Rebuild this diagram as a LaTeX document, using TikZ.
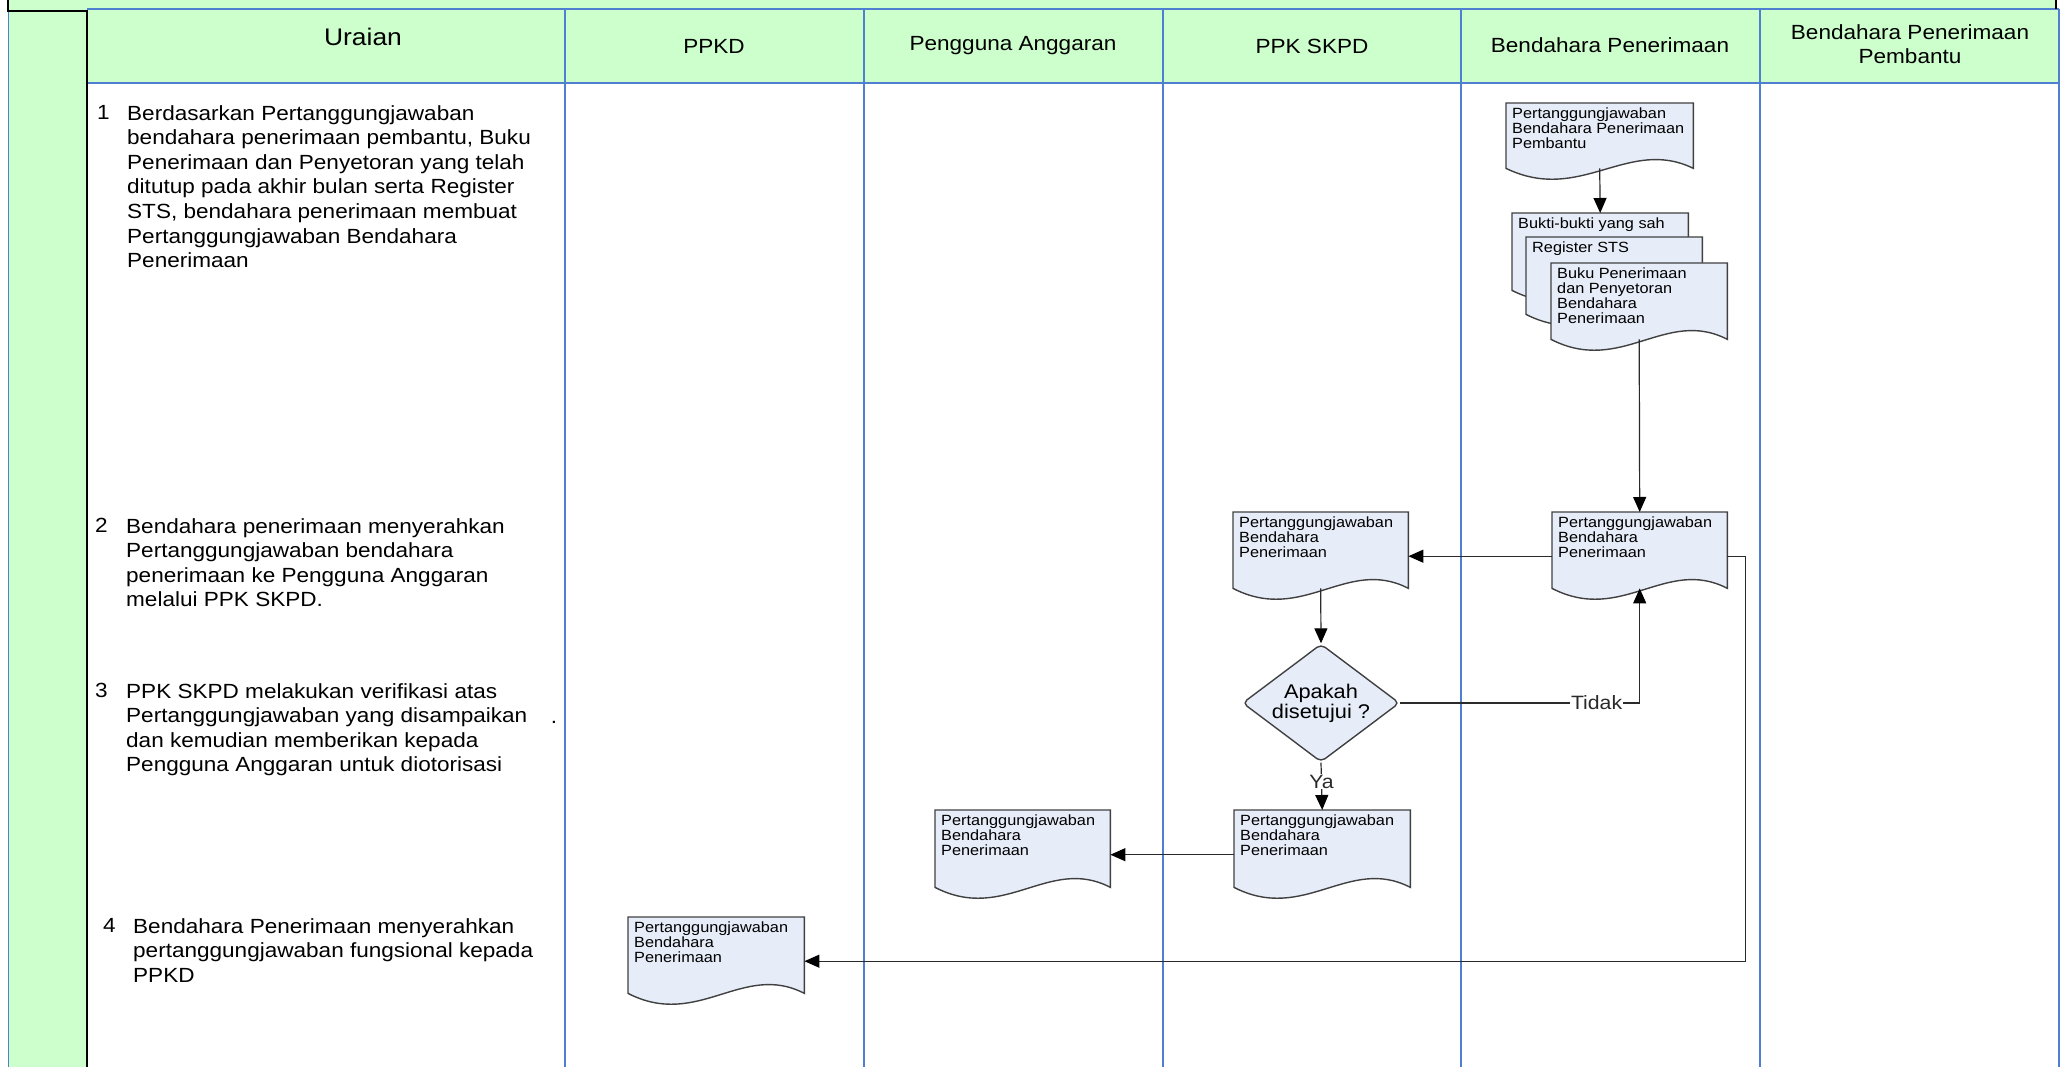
\documentclass[tikz,border=0pt]{standalone}
\usepackage{fontspec}
\setmainfont{Liberation Sans}[FakeStretch=1.1]
\usepackage{tikz}
\usetikzlibrary{arrows.meta,calc,positioning,shapes.geometric}
\definecolor{fgreen}{HTML}{CCFFCC}
\definecolor{fblue}{HTML}{4F7FD0}
\definecolor{fdocfill}{HTML}{E6ECF8}
\definecolor{fdocline}{HTML}{404040}
\definecolor{fline}{HTML}{2A2A2A}
\tikzset{
  >={Triangle[length=15pt, width=13pt, color=black]},
  flane/.style={fblue, line width=1.3pt},
  fhead/.style={font=\fontsize{20.5}{23.5}\selectfont, align=center},
  fstep/.style={font=\fontsize{20.5}{24.6}\selectfont, align=left,
                anchor=north west, inner sep=0pt},
  fdocbox/.style={rectangle, inner sep=0pt, anchor=north west},
  fdocshape/.style={fill=fdocfill, draw=fdocline, line width=1.4pt},
  fdoctext/.style={font=\fontsize{14.8}{15}\selectfont, align=left,
                   anchor=north west, inner xsep=6pt, inner ysep=4.5pt},
  fdecide/.style={diamond, aspect=1.33, fill=fdocfill, draw=fdocline, line width=1.4pt,
                  rounded corners=5pt, minimum width=157pt, minimum height=118pt,
                  inner sep=0pt, align=center, font=\fontsize{19.8}{20}\selectfont},
  fflow/.style={->, fline, line width=1.2pt},
  flbl/.style={fill=white, inner sep=1pt, font=\fontsize{19.3}{20}\selectfont},
}
% dokumen: nama, pojok kiri atas, lebar, tinggi, teks
\newcommand{\fdok}[5]{%
  \node[fdocbox, minimum width=#3pt, minimum height=#4pt] (#1) at (#2) {};
  \draw[fdocshape] (#1.north west) -- (#1.south west)
    .. controls +(0.4*#3,36) and +(-0.35*#3,-32) .. (#1.south east)
    -- (#1.north east) -- cycle;
  \node[fdoctext] at (#1.north west) {#5};
}

\begin{document}
\begin{tikzpicture}[x=1pt, y=-1pt]

  \useasboundingbox (0,0) rectangle (2062,1067);

  % latar hijau
  \fill[fgreen] (8,0) rectangle (2056,11);
  \fill[fgreen] (8,11) rectangle (87,1067);
  \fill[fgreen] (87,9) rectangle (2059,83);

  % garis lajur
  \draw[flane] (87,9) -- (2059,9);
  \draw[flane] (87,83) -- (2059,83);
  \draw[flane] (8.5,11) -- (8.5,1067);
  \draw[flane] (565,9) -- (565,1067);
  \draw[flane] (864,9) -- (864,1067);
  \draw[flane] (1163,9) -- (1163,1067);
  \draw[flane] (1461,9) -- (1461,1067);
  \draw[flane] (1760,9) -- (1760,1067);
  \draw[flane] (2059,9) -- (2059,1067);

  % bingkai hitam
  \draw[black, line width=2pt] (8,0) -- (8,11) -- (87,11) -- (87,1067);
  \draw[black, line width=1.5pt] (2056,0) -- (2056,9);

  % judul kolom
  \node[fhead, font=\fontsize{24}{28}\selectfont] (hUraian) at (363,37) {Uraian};
  \node[fhead] (hPPKD) at (714,46) {PPKD};
  \node[fhead] (hPA) at (1013,46) {Pengguna Anggaran};
  \node[fhead] (hPPK) at (1312,46) {PPK SKPD};
  \node[fhead] (hBP) at (1610,45) {Bendahara Penerimaan};
  \node[fhead] (hBPP) at (1910,44) {Bendahara Penerimaan\\Pembantu};

  % uraian langkah
  \node[fstep] (n1) at (97,105) {1};
  \node[fstep] (s1) at (127,105) {Berdasarkan Pertanggungjawaban\\
    bendahara penerimaan pembantu, Buku\\
    Penerimaan dan Penyetoran yang telah\\
    ditutup pada akhir bulan serta Register\\
    STS, bendahara penerimaan membuat\\
    Pertanggungjawaban Bendahara\\
    Penerimaan};
  \node[fstep] (n2) at (95,518) {2};
  \node[fstep] (s2) at (126,518) {Bendahara penerimaan menyerahkan\\
    Pertanggungjawaban bendahara\\
    penerimaan ke Pengguna Anggaran\\
    melalui PPK SKPD.};
  \node[fstep] (n3) at (95,683) {3};
  \node[fstep] (s3) at (126,683) {PPK SKPD melakukan verifikasi atas\\
    Pertanggungjawaban yang disampaikan\\
    dan kemudian memberikan kepada\\
    Pengguna Anggaran untuk diotorisasi};
  \node[fstep, anchor=center] (titik) at (554,722) {.};
  \node[fstep] (n4) at (103,918) {4};
  \node[fstep] (s4) at (133,918) {Bendahara Penerimaan menyerahkan\\
    pertanggungjawaban fungsional kepada\\
    PPKD};

  % dokumen
  \fdok{dA}{1506,103}{187}{65}{Pertanggungjawaban\\Bendahara Penerimaan\\Pembantu}
  \fdok{dBukti}{1512,213}{176}{77}{Bukti-bukti yang sah}
  \fdok{dReg}{1526,237}{176}{77}{Register STS}
  \fdok{dBuku}{1551,263}{176}{76}{Buku Penerimaan\\dan Penyetoran\\Bendahara\\Penerimaan}
  \fdok{dB}{1552,512}{175}{76}{Pertanggungjawaban\\Bendahara\\Penerimaan}
  \fdok{dC}{1233,512}{175}{76}{Pertanggungjawaban\\Bendahara\\Penerimaan}
  \fdok{dD}{1234,810}{176}{77}{Pertanggungjawaban\\Bendahara\\Penerimaan}
  \fdok{dE}{935,810}{175}{77}{Pertanggungjawaban\\Bendahara\\Penerimaan}
  \fdok{dF}{628,917}{176}{76}{Pertanggungjawaban\\Bendahara\\Penerimaan}

  % keputusan
  \node[fdecide] (dia) at (1321,703) {Apakah\\disetujui ?};

  % alur
  \draw[fflow] (dA.south) -- (dBukti.north);
  \draw[fflow] (dBuku.south) -- (dB.north);
  \draw[fflow] ([yshift=-6pt]dB.west) -- ([yshift=-6pt]dC.east);
  \draw[fflow] (dC.south) -- (dia.north);
  \draw[fflow] (dia.east) -| node[flbl, pos=0.41] {Tidak} (dB.south);
  \draw[fflow] (dia.south) -- node[flbl, pos=0.4] {Ya} (dD.north);
  \draw[fflow] ([yshift=-6pt]dD.west) -- ([yshift=-6pt]dE.east);
  \draw[fflow] ([yshift=-6pt]dB.east) -- ++(18,0) |- ([yshift=-6pt]dF.east);

\end{tikzpicture}
\end{document}
